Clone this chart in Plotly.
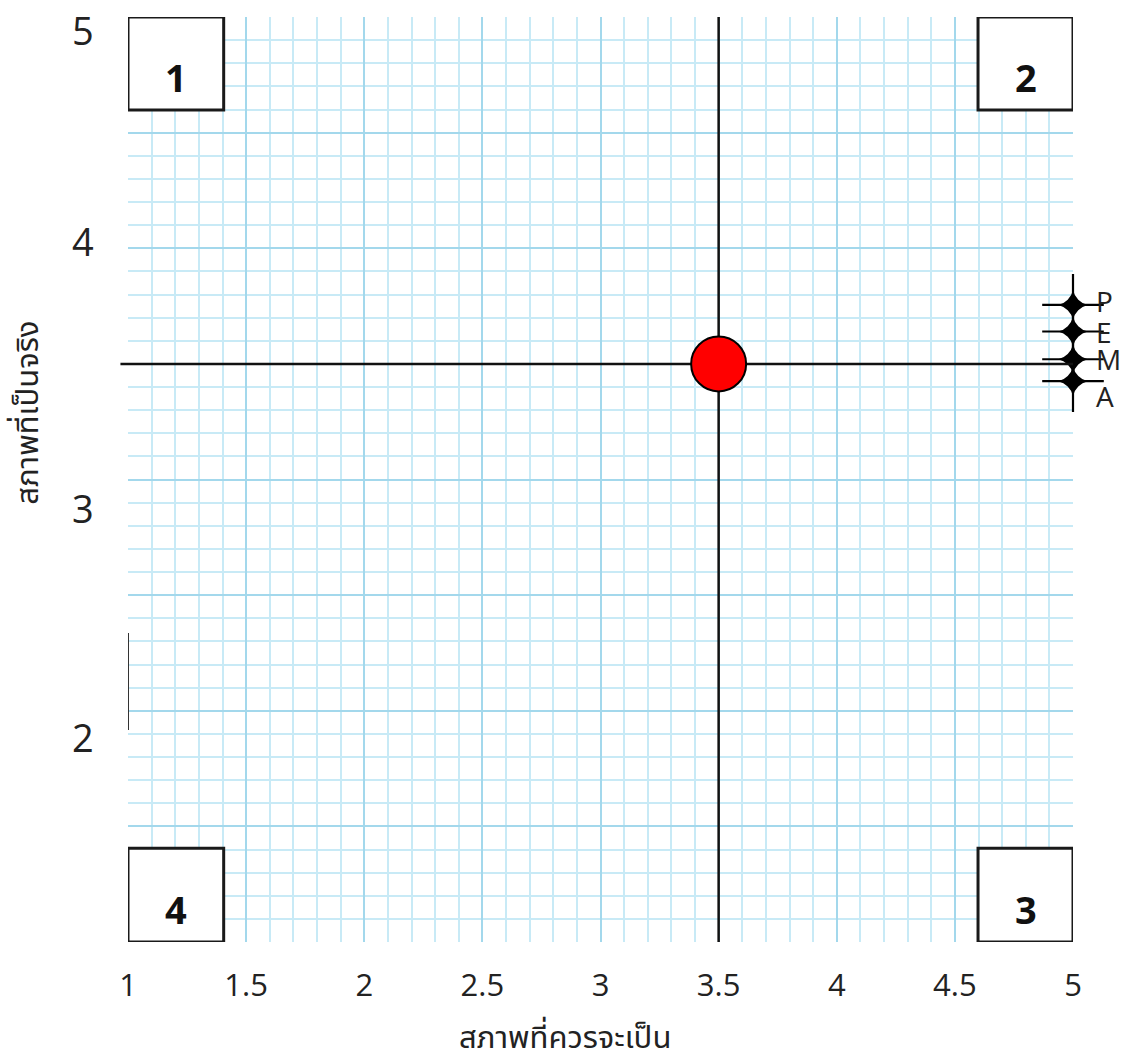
import plotly.graph_objects as go

# ---- data ----
x_tick_vals = [1, 1.5, 2, 2.5, 3, 3.5, 4, 4.5, 5]
x_tick_text = ["1", "1.5", "2", "2.5", "3", "3.5", "4", "4.5", "5"]
y_tick_vals = [5, 4, 3, 2]
y_tick_text = ["5", "4", "3", "2"]
y_tick_shift = [-13, 7, -28, -26]

center_x = [3.5]
center_y = [3.5]

star_labels = ["P", "E", "M", "A"]
star_x = [5, 5, 5, 5]
star_y = [3.755, 3.64, 3.52, 3.425]
star_label_yshift = [4, 0, 0, -15]

quadrant_labels = ["1", "2", "3", "4"]
quadrant_x0 = [1.0, 4.598, 4.598, 1.0]
quadrant_x1 = [1.405, 5.0, 5.0, 1.405]
quadrant_y0 = [4.598, 4.598, 1.0, 1.0]
quadrant_y1 = [5.0, 5.0, 1.405, 1.405]

mark_x = [1, 1]
mark_y = [1.917, 2.336]

x_title = "สภาพที่ควรจะเป็น"
y_title = "สภาพที่เป็นจริง"

FONT = "Open Sans, Noto Sans Thai, Noto Sans, sans-serif"

fig = go.Figure()

# small vertical mark on left edge
fig.add_trace(go.Scatter(x=mark_x, y=mark_y, mode="lines",
                         line=dict(color="#333333", width=2),
                         hoverinfo="skip", showlegend=False, cliponaxis=False))

# stars: thin cross + four-point star body (sparkle)
fig.add_trace(go.Scatter(
    x=star_x, y=star_y, mode="markers",
    marker=dict(symbol="cross-thin", size=44, color="black",
                line=dict(width=2.2, color="black")),
    cliponaxis=False, showlegend=False))
fig.add_trace(go.Scatter(
    x=star_x, y=star_y, mode="markers",
    marker=dict(symbol="star-diamond", size=21, color="black",
                line=dict(width=0)),
    cliponaxis=False, showlegend=False))

shapes = []
# cross lines through center
shapes.append(dict(type="line", xref="paper", yref="y", x0=-0.008, x1=1,
                   y0=center_y[0], y1=center_y[0],
                   line=dict(color="#111111", width=2.5), layer="above"))
shapes.append(dict(type="line", xref="x", yref="paper", x0=center_x[0], x1=center_x[0],
                   y0=0, y1=1, line=dict(color="#111111", width=2.5), layer="above"))
# red dot (pixel-sized circle anchored at the data point)
shapes.append(dict(type="circle", xref="x", yref="y",
                   xsizemode="pixel", ysizemode="pixel",
                   xanchor=center_x[0], yanchor=center_y[0],
                   x0=-27.5, x1=27.5, y0=-27.5, y1=27.5,
                   fillcolor="#ff0000", line=dict(color="black", width=2),
                   layer="above"))
# quadrant boxes
for i in range(4):
    shapes.append(dict(type="rect", xref="x", yref="y",
                       x0=quadrant_x0[i], x1=quadrant_x1[i],
                       y0=quadrant_y0[i], y1=quadrant_y1[i],
                       line=dict(color="#1a1a1a", width=3),
                       fillcolor="white", layer="above"))

annotations = []
for i in range(4):
    annotations.append(dict(
        x=(quadrant_x0[i] + quadrant_x1[i]) / 2,
        y=(quadrant_y0[i] + quadrant_y1[i]) / 2,
        xref="x", yref="y", text=quadrant_labels[i], showarrow=False,
        yshift=-14,
        font=dict(family=FONT, size=38, color="#111111", weight="bold")))

for lx, ly, lt, ls in zip(star_x, star_y, star_labels, star_label_yshift):
    annotations.append(dict(x=lx, y=ly, xref="x", yref="y", text=lt,
                            showarrow=False, xanchor="left", yanchor="middle",
                            xshift=21, yshift=ls,
                            font=dict(family=FONT, size=28, color="#222222")))

for v, t, s in zip(y_tick_vals, y_tick_text, y_tick_shift):
    annotations.append(dict(x=-0.0476, y=v, xref="paper", yref="y", text=t,
                            showarrow=False, yshift=s, xanchor="center",
                            yanchor="middle",
                            font=dict(family=FONT, size=38, color="#222222")))

annotations.append(dict(x=0.462, y=-0.1016, xref="paper", yref="paper",
                        text=x_title, showarrow=False, yanchor="middle",
                        xanchor="center",
                        font=dict(family=FONT, size=31, color="#222222")))
annotations.append(dict(x=-0.108, y=0.572, xref="paper", yref="paper",
                        text=y_title, showarrow=False, textangle=-90,
                        xanchor="center", yanchor="middle",
                        font=dict(family=FONT, size=31, color="#222222")))

fig.update_layout(
    width=1126, height=1059,
    margin=dict(l=128, r=53, t=17, b=117),
    paper_bgcolor="white", plot_bgcolor="white",
    shapes=shapes, annotations=annotations,
    showlegend=False,
    xaxis=dict(range=[1, 5], tickvals=x_tick_vals, ticktext=x_tick_text,
               showgrid=True, gridcolor="#a3d8ec", gridwidth=1.5,
               zeroline=False, showline=False, ticks="",
               ticklabelstandoff=22,
               tickfont=dict(family=FONT, size=31, color="#222222"),
               minor=dict(dtick=0.1, tick0=1, showgrid=True,
                          gridcolor="#c8eaf6", gridwidth=1.5)),
    yaxis=dict(range=[1, 5], tickmode="linear", tick0=1, dtick=0.5,
               showticklabels=False,
               showgrid=True, gridcolor="#a3d8ec", gridwidth=1.5,
               zeroline=False, showline=False, ticks="",
               minor=dict(dtick=0.1, tick0=1, showgrid=True,
                          gridcolor="#c8eaf6", gridwidth=1.5)),
)

fig.write_html("out.html", config={"displayModeBar": False},
               post_script="document.body.style.margin='0';document.body.style.overflow='hidden';")
